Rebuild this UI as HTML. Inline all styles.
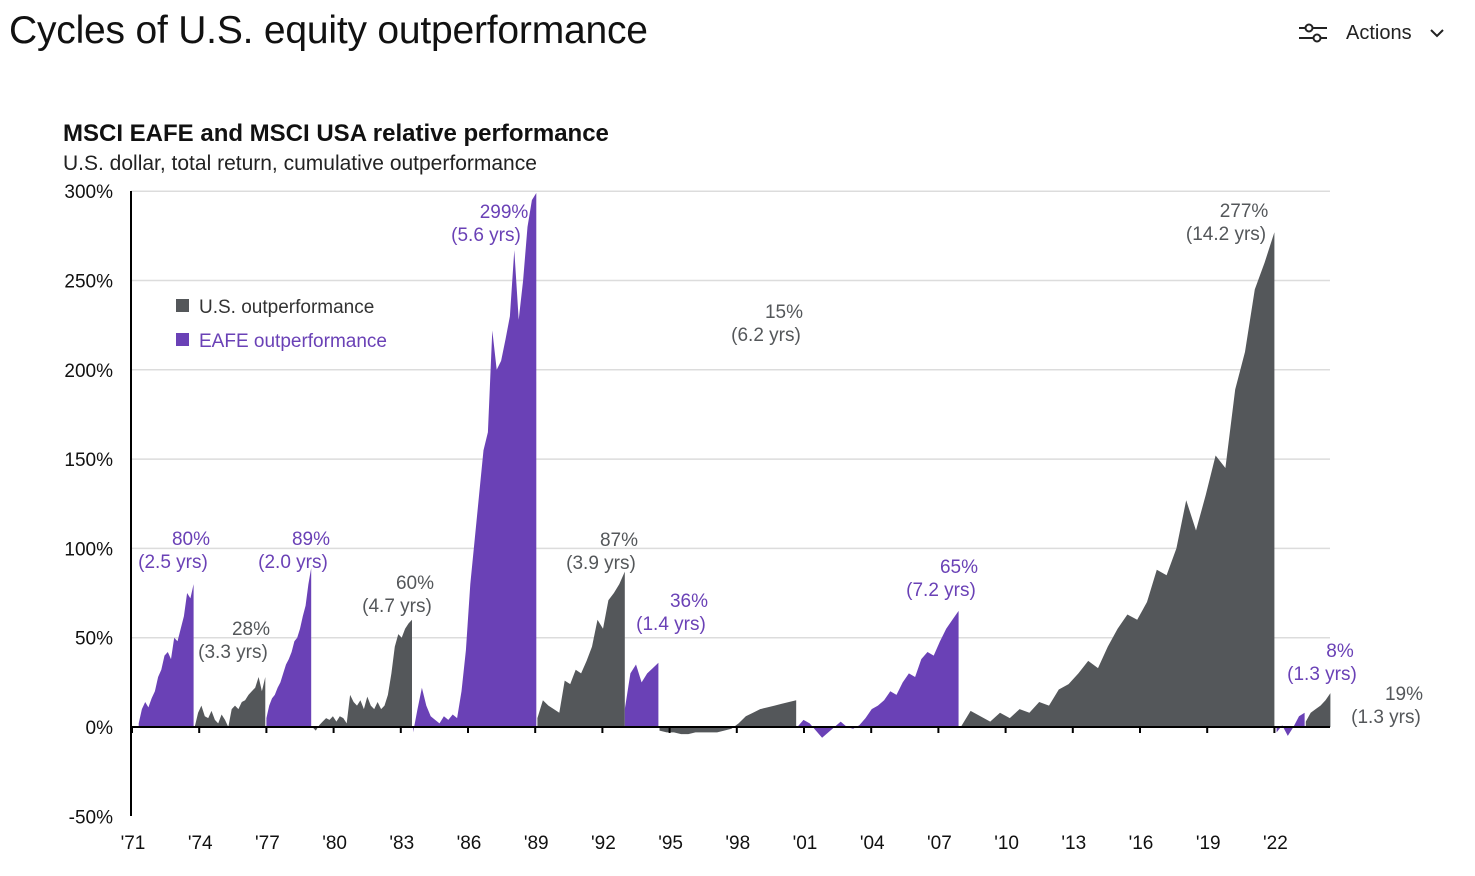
<!DOCTYPE html>
<html><head><meta charset="utf-8"><style>
body{margin:0;width:1475px;height:876px;background:#fff;font-family:"Liberation Sans",sans-serif;overflow:hidden;position:relative}
#title{position:absolute;left:9px;top:9px;font-size:39px;color:#111;letter-spacing:-0.2px}
#actions{position:absolute;left:1298px;top:21px;font-size:20px;color:#222;display:flex;align-items:center}
svg{position:absolute;left:0;top:0}
</style></head><body>
<div id="title">Cycles of U.S. equity outperformance</div>
<div id="actions">
<svg style="position:static;margin-right:18px" width="30" height="24" viewBox="0 0 30 24"><line x1="1" y1="7" x2="29" y2="7" stroke="#222" stroke-width="2"/><circle cx="11" cy="7" r="3.5" fill="#fff" stroke="#222" stroke-width="2"/><line x1="1" y1="17" x2="29" y2="17" stroke="#222" stroke-width="2"/><circle cx="19" cy="17" r="3.5" fill="#fff" stroke="#222" stroke-width="2"/></svg>
<span>Actions</span>
<svg style="position:static;margin-left:18px" width="14" height="10" viewBox="0 0 14 10"><path d="M1 2 L7 8 L13 2" fill="none" stroke="#222" stroke-width="2"/></svg>
</div>
<svg id="chart" width="1475" height="876"></svg>
<script>
const yTicks=[300,250,200,150,100,50,0,-50];
const xTickYears=[1971,1974,1977,1980,1983,1986,1989,1992,1995,1998,2001,2004,2007,2010,2013,2016,2019,2022];
const xTickLabels=["'71","'74","'77","'80","'83","'86","'89","'92","'95","'98","'01","'04","'07","'10","'13","'16","'19","'22"];
const cycleStart=[1971.3,1973.8,1977.0,1979.05,1983.55,1989.1,1993.0,1994.55,2000.7,2008.0,2022.1,2023.4];
const cycleEnd=[1973.75,1976.95,1979.0,1983.5,1989.05,1993.0,1994.5,2000.65,2007.9,2022.0,2023.35,2024.5];
const cycleType=["eafe","us","eafe","us","eafe","us","eafe","us","eafe","us","eafe","us"];
const cycleValues=[
[2,10,14,11,16,20,28,32,40,42,38,50,48,55,62,75,72,80],
[0,8,12,6,5,9,4,2,7,4,0,10,12,10,14,15,18,20,22,28,20,28],
[5,12,16,18,22,25,30,35,38,42,48,50,55,62,68,80,89],
[0,-2,1,3,5,4,6,3,6,5,2,18,14,12,15,10,17,12,10,14,10,12,18,30,45,52,50,55,58,60],
[-3,10,22,12,6,4,2,6,4,7,5,20,43,80,105,130,155,165,222,200,205,217,230,267,228,250,280,295,299],
[5,15,12,10,8,26,24,32,30,37,45,60,55,71,75,80,87],
[10,30,35,25,30,33,36],
[-2,-3,-3,-4,-4,-3,-3,-3,-3,-2,-1,2,6,8,10,11,12,13,14,15],
[0,4,2,-2,-6,-3,0,3,0,-1,1,5,10,12,15,20,18,25,30,28,38,42,40,48,55,60,65],
[0,9,6,3,8,5,10,8,14,12,21,24,30,37,33,45,55,63,60,70,88,85,100,127,110,130,152,145,189,210,245,260,277],
[-3,1,-5,0,6,8],
[3,8,10,12,15,19]];
const annotations=[
["80%","(2.5 yrs)",173,"eafe",545],["28%","(3.3 yrs)",233,"us",635],["89%","(2.0 yrs)",293,"eafe",545],
["60%","(4.7 yrs)",397,"us",589],["299%","(5.6 yrs)",486,"eafe",218],["87%","(3.9 yrs)",601,"us",546],
["36%","(1.4 yrs)",671,"eafe",607],["15%","(6.2 yrs)",766,"us",318],["65%","(7.2 yrs)",941,"eafe",573],
["277%","(14.2 yrs)",1226,"us",217],["8%","(1.3 yrs)",1322,"eafe",657],["19%","(1.3 yrs)",1386,"us",700]];
const COL={eafe:"#6a41b6",us:"#54575a"};
const NS="http://www.w3.org/2000/svg";
const svg=document.getElementById('chart');
const X0=132,PXY=22.4,Y0=727,PXV=1.786;
function xs(y){return X0+(y-1971)*PXY;}
function ys(v){return Y0-v*PXV;}
function mk(tag,attrs,parent){const e=document.createElementNS(NS,tag);for(const k in attrs)e.setAttribute(k,attrs[k]);(parent||svg).appendChild(e);return e;}
function txt(s,x,y,size,fill,anchor,weight){const t=mk('text',{x:x,y:y,'font-size':size,fill:fill,'text-anchor':anchor||'start','font-family':'Liberation Sans, sans-serif','font-weight':weight||'normal'});t.textContent=s;return t;}
let t=txt("MSCI EAFE and MSCI USA relative performance",63,141,24,"#111","start","bold");


t=txt("U.S. dollar, total return, cumulative outperformance",63,170,21,"#222");


yTicks.forEach(v=>{
  if(v!==0&&v!==-50){const g=mk('line',{x1:131,x2:1330,y1:ys(v),y2:ys(v),stroke:"#dcdcdc",'stroke-width':1.5});
  
  }
  const l=txt(v+"%",113,ys(v)+7,19,"#111","end");
  
  
});
cycleValues.forEach((vals,i)=>{
  const s=cycleStart[i],e=cycleEnd[i],n=vals.length;
  let d="M"+xs(s)+","+Y0;
  vals.forEach((v,j)=>{const yr=s+(e-s)*j/(n-1);d+=" L"+xs(yr).toFixed(1)+","+ys(v).toFixed(1);});
  d+=" L"+xs(e)+","+Y0+" Z";
  const p=mk('path',{d:d,fill:COL[cycleType[i]]});
  
  
});
let a=mk('line',{x1:131,x2:131,y1:191,y2:816,stroke:"#000",'stroke-width':2});


a=mk('line',{x1:131,x2:1330,y1:Y0,y2:Y0,stroke:"#000",'stroke-width':2});


xTickYears.forEach((yr,i)=>{
  const tk=mk('line',{x1:xs(yr),x2:xs(yr),y1:Y0,y2:Y0+6,stroke:"#000",'stroke-width':2});
  
  
  const l=txt(xTickLabels[i],xs(yr)+1,849,19,"#111","middle");
  
  
});
annotations.forEach(an=>{
  const c=COL[an[3]];
  const a1=txt(an[0],an[2]+18,an[4],19,c,"middle");
  
  
  const a2=txt(an[1],an[2],an[4]+23,19,c,"middle");
  
  
});
let r=mk('rect',{x:176,y:299,width:13,height:13,fill:COL.us});


t=txt("U.S. outperformance",199,313,19,"#333");


r=mk('rect',{x:176,y:333,width:13,height:13,fill:COL.eafe});


t=txt("EAFE outperformance",199,347,19,COL.eafe);


</script>
</body></html>
